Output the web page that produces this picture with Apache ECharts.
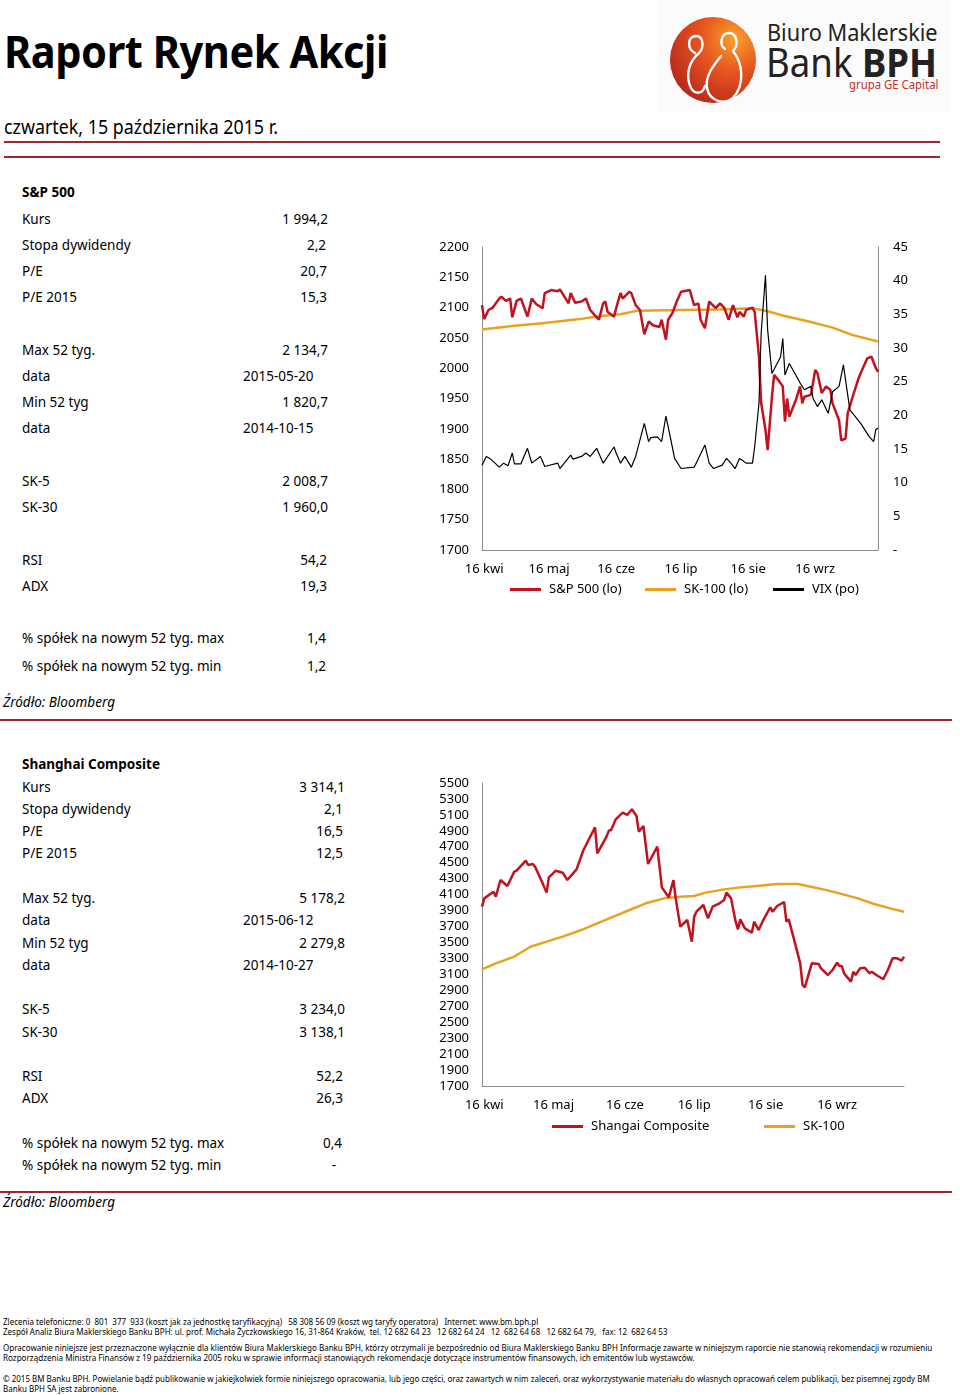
<!DOCTYPE html>
<html>
<head>
<meta charset="utf-8">
<script src="https://cdn.jsdelivr.net/npm/echarts@6/dist/echarts.min.js"></script>
<style>
  html,body{margin:0;padding:0;background:#fff;}
  #page{position:relative;width:960px;height:1395px;overflow:hidden;font-family:"Noto Sans",sans-serif;color:#000;}
  .t{position:absolute;white-space:nowrap;transform:translateY(-50%);font-size:13.5px;line-height:18px;}
  .r{position:absolute;white-space:nowrap;transform:translate(-100%,-50%);font-size:13.5px;line-height:18px;}
  .b{font-weight:bold;}
  .hl{position:absolute;height:2px;background:#a3282d;}
  .foot{position:absolute;left:3px;white-space:nowrap;font-size:8px;line-height:10px;transform-origin:0 50%;transform:translateY(-50%);}
  .fit{transform-origin:0 50%;}
  #c1{position:absolute;left:0;top:220px;width:960px;height:400px;}
  #c2{position:absolute;left:0;top:760px;width:960px;height:390px;}
</style>
</head>
<body>
<div id="page">
  <div class="t b fit" data-w="384" style="left:4px;top:51px;font-size:44px;line-height:52px;letter-spacing:-0.5px;">Raport Rynek Akcji</div>
  <div class="t fit" data-w="274" style="left:4px;top:127px;font-size:19px;line-height:24px;">czwartek, 15 października 2015 r.</div>
  <div class="hl" style="left:4px;top:141px;width:936px;"></div>
  <div class="hl" style="left:4px;top:156px;width:936px;"></div>

  <!-- logo -->
  <div style="position:absolute;left:658px;top:0;width:292px;height:112px;background:#fbfbfb;">
    <svg width="292" height="112" style="position:absolute;left:0;top:0;">
      <defs>
        <radialGradient id="lg" cx="75%" cy="25%" r="85%">
          <stop offset="0" stop-color="#f7a22c"/>
          <stop offset="0.45" stop-color="#e8561f"/>
          <stop offset="1" stop-color="#b8281c"/>
        </radialGradient>
      </defs>
      <circle cx="55" cy="60" r="43" fill="url(#lg)"/>
      <path d="M37 53 C29 49,29 37,38 36 C46 36,46 48,41 53 C31 61,27 76,33 88 C37 95,45 94,47 86" fill="none" stroke="#fff" stroke-width="2.4" stroke-linecap="round"/>
      <path d="M67 49 C61 45,63 33,71 33 C79 33,81 45,75 51 C85 63,87 85,75 98 C65 106,51 100,49 88 C47 76,55 66,63 56" fill="none" stroke="#fff" stroke-width="2.4" stroke-linecap="round"/>
    </svg>
    <div class="t fit" data-w="171" style="left:109px;top:32px;font-size:24px;line-height:28px;color:#222;">Biuro Maklerskie</div>
    <div class="t fit" data-w="171" style="left:108px;top:62px;font-size:40px;line-height:44px;color:#222;">Bank <b>BPH</b></div>
    <div class="t fit" data-w="89" style="left:191px;top:85px;font-size:12px;line-height:14px;color:#c8302a;">grupa GE Capital</div>
  </div>

  <!-- section 1 -->
  <div class="t b" style="left:22px;top:192px;">S&amp;P 500</div>
  <div class="t" style="left:22px;top:219px;">Kurs</div><div class="r" style="left:328px;top:219px;">1 994,2</div>
  <div class="t" style="left:22px;top:245px;">Stopa dywidendy</div><div class="r" style="left:326px;top:245px;">2,2</div>
  <div class="t" style="left:22px;top:271px;">P/E</div><div class="r" style="left:327px;top:271px;">20,7</div>
  <div class="t" style="left:22px;top:297px;">P/E 2015</div><div class="r" style="left:327px;top:297px;">15,3</div>
  <div class="t" style="left:22px;top:350px;">Max 52 tyg.</div><div class="r" style="left:328px;top:350px;">2 134,7</div>
  <div class="t" style="left:22px;top:376px;">data</div><div class="t" style="left:243px;top:376px;">2015-05-20</div>
  <div class="t" style="left:22px;top:402px;">Min 52 tyg</div><div class="r" style="left:328px;top:402px;">1 820,7</div>
  <div class="t" style="left:22px;top:428px;">data</div><div class="t" style="left:243px;top:428px;">2014-10-15</div>
  <div class="t" style="left:22px;top:481px;">SK-5</div><div class="r" style="left:328px;top:481px;">2 008,7</div>
  <div class="t" style="left:22px;top:507px;">SK-30</div><div class="r" style="left:328px;top:507px;">1 960,0</div>
  <div class="t" style="left:22px;top:560px;">RSI</div><div class="r" style="left:327px;top:560px;">54,2</div>
  <div class="t" style="left:22px;top:586px;">ADX</div><div class="r" style="left:327px;top:586px;">19,3</div>
  <div class="t" style="left:22px;top:638px;">% spółek na nowym 52 tyg. max</div><div class="r" style="left:326px;top:638px;">1,4</div>
  <div class="t" style="left:22px;top:666px;">% spółek na nowym 52 tyg. min</div><div class="r" style="left:326px;top:666px;">1,2</div>
  <div class="t" style="left:3px;top:702px;font-style:italic;">Źródło: Bloomberg</div>
  <div class="hl" style="left:0;top:719px;width:952px;"></div>

  <!-- section 2 -->
  <div class="t b" style="left:22px;top:764px;">Shanghai Composite</div>
  <div class="t" style="left:22px;top:787px;">Kurs</div><div class="r" style="left:345px;top:787px;">3 314,1</div>
  <div class="t" style="left:22px;top:809px;">Stopa dywidendy</div><div class="r" style="left:343px;top:809px;">2,1</div>
  <div class="t" style="left:22px;top:831px;">P/E</div><div class="r" style="left:343px;top:831px;">16,5</div>
  <div class="t" style="left:22px;top:853px;">P/E 2015</div><div class="r" style="left:343px;top:853px;">12,5</div>
  <div class="t" style="left:22px;top:898px;">Max 52 tyg.</div><div class="r" style="left:345px;top:898px;">5 178,2</div>
  <div class="t" style="left:22px;top:920px;">data</div><div class="t" style="left:243px;top:920px;">2015-06-12</div>
  <div class="t" style="left:22px;top:943px;">Min 52 tyg</div><div class="r" style="left:345px;top:943px;">2 279,8</div>
  <div class="t" style="left:22px;top:965px;">data</div><div class="t" style="left:243px;top:965px;">2014-10-27</div>
  <div class="t" style="left:22px;top:1009px;">SK-5</div><div class="r" style="left:345px;top:1009px;">3 234,0</div>
  <div class="t" style="left:22px;top:1032px;">SK-30</div><div class="r" style="left:345px;top:1032px;">3 138,1</div>
  <div class="t" style="left:22px;top:1076px;">RSI</div><div class="r" style="left:343px;top:1076px;">52,2</div>
  <div class="t" style="left:22px;top:1098px;">ADX</div><div class="r" style="left:343px;top:1098px;">26,3</div>
  <div class="t" style="left:22px;top:1143px;">% spółek na nowym 52 tyg. max</div><div class="r" style="left:342px;top:1143px;">0,4</div>
  <div class="t" style="left:22px;top:1165px;">% spółek na nowym 52 tyg. min</div><div class="r" style="left:336px;top:1165px;">-</div>
  <div class="hl" style="left:0;top:1191px;width:952px;"></div>
  <div class="t" style="left:3px;top:1202px;font-style:italic;">Źródło: Bloomberg</div>

  <div id="c1"></div>
  <div id="c2"></div>

  <!-- footer -->
  <div class="foot fit" data-w="535" style="top:1322px;">Zlecenia telefoniczne: 0 &nbsp;801 &nbsp;377 &nbsp;933 (koszt jak za jednostkę taryfikacyjną) &nbsp;&nbsp;58 308 56 09 (koszt wg taryfy operatora) &nbsp;&nbsp;Internet: www.bm.bph.pl</div>
  <div class="foot fit" data-w="664" style="top:1332px;">Zespół Analiz Biura Maklerskiego Banku BPH: ul. prof. Michała Życzkowskiego 16, 31-864 Kraków, &nbsp;tel. 12 682 64 23 &nbsp;&nbsp;12 682 64 24 &nbsp;&nbsp;12 &nbsp;682 64 68 &nbsp;&nbsp;12 682 64 79, &nbsp;&nbsp;fax: 12 &nbsp;682 64 53</div>
  <div class="foot fit" data-w="929" style="top:1348px;">Opracowanie niniejsze jest przeznaczone wyłącznie dla klientów Biura Maklerskiego Banku BPH, którzy otrzymali je bezpośrednio od Biura Maklerskiego Banku BPH Informacje zawarte w niniejszym raporcie nie stanowią rekomendacji w rozumieniu</div>
  <div class="foot fit" data-w="692" style="top:1358px;">Rozporządzenia Ministra Finansów z 19 października 2005 roku w sprawie informacji stanowiących rekomendacje dotyczące instrumentów finansowych, ich emitentów lub wystawców.</div>
  <div class="foot fit" data-w="927" style="top:1379px;">© 2015 BM Banku BPH. Powielanie bądź publikowanie w jakiejkolwiek formie niniejszego opracowania, lub jego części, oraz zawartych w nim zaleceń, oraz wykorzystywanie materiału do własnych opracowań celem publikacji, bez pisemnej zgody BM</div>
  <div class="foot" style="top:1389px;">Banku BPH SA jest zabronione.</div>
</div>

<script>
// ---- DATA (x = days since 2015-04-15) ----
const tickDays = [1, 31, 62, 92, 123, 154];
const tickLabels = ['16 kwi', '16 maj', '16 cze', '16 lip', '16 sie', '16 wrz'];

const spx = [[0,2104],[1,2081],[3,2096],[5,2100],[8,2115],[9,2118],[11,2111],[13,2115],[14,2084],[16,2111],[18,2115],[21,2085],[23,2115],[25,2106],[28,2099],[29,2124],[32,2129],[35,2127],[36,2130],[40,2107],[41,2124],[43,2108],[46,2110],[48,2115],[50,2096],[52,2088],[54,2080],[56,2107],[57,2110],[58,2093],[61,2085],[62,2099],[64,2124],[65,2115],[68,2126],[69,2124],[71,2104],[73,2096],[75,2056],[77,2077],[79,2071],[82,2068],[83,2080],[85,2047],[86,2080],[88,2091],[90,2110],[92,2126],[96,2129],[98,2104],[100,2107],[101,2080],[103,2066],[105,2110],[108,2099],[110,2107],[112,2099],[114,2080],[116,2104],[118,2084],[119,2093],[121,2085],[122,2096],[125,2100],[126,2093],[128,2019],[129,1943],[131,1898],[132,1865],[134,1953],[135,1989],[137,1980],[139,1970],[140,1912],[141,1950],[142,1920],[145,1947],[147,1970],[148,1942],[149,1953],[152,1956],[154,1997],[155,1992],[157,1959],[159,1970],[161,1964],[162,1942],[165,1914],[166,1881],[168,1884],[169,1926],[172,1961],[174,1983],[175,1992],[178,2016],[180,2019],[182,2000],[183,1994]];

const spxSk100 = [[0,2064],[15,2070],[28,2074],[45,2081],[55,2086],[64,2089],[72,2095],[92,2096],[110,2097],[125,2099],[132,2094],[140,2086],[151,2077],[162,2067],[171,2055],[183,2044]];

const vix = [[0,12.6],[2,13.9],[4,13.5],[8,12.3],[10,12.9],[12,12.5],[14,14.4],[15,12.8],[18,12.8],[21,15.1],[23,12.9],[27,13.9],[29,12.4],[35,12.9],[36,12.1],[41,14.1],[42,13.5],[46,13.9],[48,14.4],[50,13.9],[53,15.1],[56,12.9],[61,15.3],[62,14.4],[64,12.9],[66,13.9],[69,12.3],[71,13.9],[75,18.8],[77,16.1],[78,16.7],[81,16.8],[83,16.1],[85,19.9],[87,16.8],[89,13.6],[92,12.1],[98,12.3],[99,12.9],[103,15.6],[105,12.9],[107,12.1],[111,12.6],[113,13.6],[115,12.9],[117,12.1],[119,13.6],[120,13.4],[122,12.9],[125,12.9],[126,15.3],[128,21.8],[129,32.2],[131,40.8],[132,32.7],[134,26.2],[138,28.7],[139,31.4],[140,26.0],[142,27.7],[145,26.0],[147,24.8],[149,23.8],[152,24.3],[153,22.5],[155,21.3],[157,22.3],[160,20.3],[162,23.5],[165,24.3],[167,27.5],[170,20.8],[175,18.8],[179,16.8],[181,16.1],[182,17.9],[183,18.1]];

const shc = [[0,3949],[1,4053],[3,4095],[5,4137],[6,4074],[8,4283],[11,4208],[14,4388],[15,4400],[19,4526],[20,4472],[22,4484],[23,4451],[26,4262],[28,4125],[29,4317],[32,4400],[35,4375],[37,4283],[41,4417],[44,4660],[49,4944],[50,4618],[54,4827],[55,4902],[56,4910],[58,5044],[61,5128],[63,5099],[65,5170],[67,5086],[68,4890],[70,4961],[72,4484],[76,4701],[78,4191],[81,4066],[83,4283],[84,4053],[86,3698],[89,3782],[91,3510],[92,3824],[93,3886],[96,3970],[98,3803],[100,3949],[103,3991],[105,4033],[106,4125],[108,4053],[110,3761],[111,3665],[112,3790],[114,3677],[117,3623],[118,3761],[120,3656],[122,3782],[125,3941],[126,3886],[128,3957],[131,4008],[132,3761],[133,3790],[135,3573],[138,3238],[139,2967],[140,2937],[143,3238],[146,3230],[147,3176],[150,3092],[152,3155],[154,3247],[155,3205],[156,3205],[157,3113],[160,3009],[161,3134],[162,3092],[164,3176],[166,3184],[168,3113],[169,3134],[171,3092],[174,3038],[176,3155],[178,3301],[180,3301],[182,3272],[183,3322]];

const shcSk100 = [[0,3163],[6,3238],[14,3322],[21,3447],[28,3510],[35,3573],[43,3656],[50,3740],[57,3824],[64,3907],[71,3991],[79,4053],[86,4074],[92,4083],[97,4125],[105,4166],[112,4191],[119,4208],[128,4233],[137,4233],[141,4208],[148,4166],[155,4116],[163,4053],[170,3982],[177,3928],[183,3886]];

const RED = '#c0121f', ORANGE = '#e9a11f', AXIS = '#8e8e8e';
const FONT = 'Noto Sans';
const plain = v => String(v);

function xAxisCfg() {
  return {
    type: 'value', min: 0, max: 183,
    axisLine: { show: true, lineStyle: { color: AXIS, width: 1 } },
    axisTick: { show: false },
    splitLine: { show: false },
    axisLabel: {
      customValues: tickDays,
      formatter: v => tickLabels[tickDays.indexOf(Math.round(v))] || '',
      color: '#000', fontSize: 13, fontFamily: FONT, margin: 13
    }
  };
}
function legendItem(name, left, top) {
  return {
    left: left, top: top, padding: 0, data: [name], icon: 'rect', itemWidth: 31, itemHeight: 3, itemGap: 0,
    textStyle: { color: '#000', fontSize: 13, fontFamily: FONT, padding: [0, 0, 0, 3] },
    selectedMode: false
  };
}

const c1 = echarts.init(document.getElementById('c1'));
c1.setOption({
  animation: false,
  textStyle: { fontFamily: FONT },
  grid: { left: 482, width: 396, top: 27, height: 303 },
  legend: [
    legendItem('S&P 500 (lo)', 510, 363),
    legendItem('SK-100 (lo)', 645, 363),
    legendItem('VIX (po)', 773, 363)
  ],
  xAxis: xAxisCfg(),
  yAxis: [
    { type: 'value', min: 1700, max: 2200, interval: 50,
      axisLine: { show: true, lineStyle: { color: AXIS } }, axisTick: { show: false }, splitLine: { show: false },
      axisLabel: { color: '#000', fontSize: 13, fontFamily: FONT, margin: 13, formatter: plain } },
    { type: 'value', min: 0, max: 45, interval: 5, position: 'right',
      axisLine: { show: true, lineStyle: { color: AXIS } }, axisTick: { show: false }, splitLine: { show: false },
      axisLabel: { color: '#000', fontSize: 13, fontFamily: FONT, margin: 15, formatter: v => v === 0 ? '-' : String(v) } }
  ],
  series: [
    { name: 'S&P 500 (lo)', type: 'line', data: spx, yAxisIndex: 0, showSymbol: false, color: RED, lineStyle: { color: RED, width: 2.5 }, z: 3 },
    { name: 'SK-100 (lo)', type: 'line', data: spxSk100, yAxisIndex: 0, showSymbol: false, color: ORANGE, lineStyle: { color: ORANGE, width: 2.5 }, z: 2 },
    { name: 'VIX (po)', type: 'line', data: vix, yAxisIndex: 1, showSymbol: false, color: '#000', lineStyle: { color: '#000', width: 1.2 }, z: 4 }
  ]
});

const c2 = echarts.init(document.getElementById('c2'));
c2.setOption({
  animation: false,
  textStyle: { fontFamily: FONT },
  grid: { left: 482, width: 422, top: 23, height: 303 },
  legend: [
    legendItem('Shangai Composite', 552, 360),
    legendItem('SK-100', 764, 360)
  ],
  xAxis: xAxisCfg(),
  yAxis: { type: 'value', min: 1700, max: 5500, interval: 200,
    axisLine: { show: true, lineStyle: { color: AXIS } }, axisTick: { show: false }, splitLine: { show: false },
    axisLabel: { color: '#000', fontSize: 13, fontFamily: FONT, margin: 13, formatter: plain } },
  series: [
    { name: 'Shangai Composite', type: 'line', data: shc, showSymbol: false, color: RED, lineStyle: { color: RED, width: 2.5 }, z: 3 },
    { name: 'SK-100', type: 'line', data: shcSk100, showSymbol: false, color: ORANGE, lineStyle: { color: ORANGE, width: 2.5 }, z: 2 }
  ]
});

// fit long texts to the widths measured on the original
document.querySelectorAll('.fit').forEach(el => {
  const w = +el.getAttribute('data-w');
  if (!w) return;
  const nat = el.scrollWidth;
  if (nat > 0) {
    el.style.transform = 'translateY(-50%) scaleX(' + (w / nat).toFixed(4) + ')';
  }
});
</script>
</body>
</html>
